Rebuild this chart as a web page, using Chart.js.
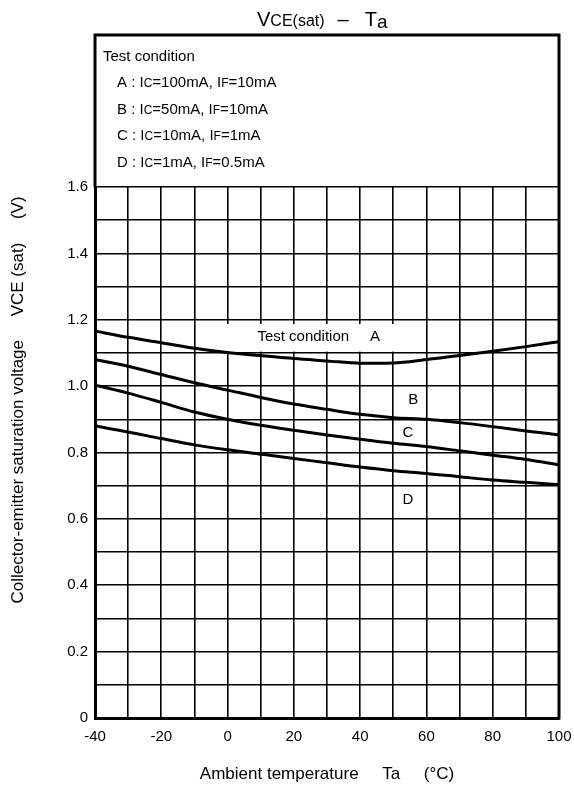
<!DOCTYPE html>
<html>
<head>
<meta charset="utf-8">
<title>VCE(sat) - Ta</title>
<script src="https://cdn.jsdelivr.net/npm/chart.js@4.4.1/dist/chart.umd.min.js"></script>
<style>
  html, body { margin: 0; padding: 0; background: #fff; }
  canvas { display: block; }
</style>
</head>
<body>
<canvas id="vceChart" width="574" height="789"></canvas>
<script>
// ===== DATA =====
const temps = [-40, -30, -20, -10, 0, 10, 20, 30, 40, 50, 60, 70, 80, 90, 100];

const curveA = [1.166, 1.147, 1.131, 1.114, 1.101, 1.092, 1.083, 1.076, 1.069, 1.070, 1.080, 1.092, 1.105, 1.119, 1.134];
const curveB = [1.080, 1.060, 1.035, 1.010, 0.988, 0.966, 0.946, 0.930, 0.915, 0.905, 0.900, 0.890, 0.878, 0.865, 0.853];
const curveC = [1.003, 0.979, 0.951, 0.922, 0.900, 0.882, 0.867, 0.853, 0.840, 0.828, 0.818, 0.805, 0.792, 0.779, 0.763];
const curveD = [0.880, 0.862, 0.842, 0.823, 0.808, 0.795, 0.782, 0.769, 0.756, 0.745, 0.737, 0.727, 0.717, 0.710, 0.703];

const curveNames = ["A", "B", "C", "D"];
const condIC = ["100mA", "50mA", "10mA", "1mA"];
const condIF = ["10mA", "10mA", "1mA", "0.5mA"];

const xMin = -40, xMax = 100, xStep = 10, xLabelStep = 20;
const yMin = 0, yMax = 1.6, yStep = 0.1, yLabelStep = 0.2;

// ===== HELPERS =====
const FAMILY = '"Liberation Sans", Arial, sans-serif';
const font = size => size + "px " + FAMILY;

function drawRuns(ctx, runs, x, y) {
  runs.forEach(r => {
    if (typeof r === "number") { x += r; return; }
    ctx.font = font(r[1]);
    ctx.fillText(r[0], x, y + (r[2] || 0));
    x += ctx.measureText(r[0]).width;
  });
  return x;
}

// ===== PLUGIN: box, titles, curve labels =====
const decorations = {
  id: "decorations",
  beforeDatasetsDraw(chart) {
    const { ctx, scales: { x, y } } = chart;
    // white patch behind "Test condition A"
    const l = x.getPixelForValue(-1.5), r = x.getPixelForValue(52);
    const t = y.getPixelForValue(1.187), b = y.getPixelForValue(1.104);
    ctx.save();
    ctx.fillStyle = "#fff";
    ctx.fillRect(l, t, r - l, b - t);
    ctx.restore();
  },
  afterDatasetsDraw(chart) {
    const { ctx, scales: { x, y } } = chart;
    ctx.save();
    ctx.fillStyle = "#000";
    ctx.font = font(15);
    ctx.textBaseline = "middle";
    ctx.textAlign = "left";
    ctx.fillText("Test condition", x.getPixelForValue(9), y.getPixelForValue(1.148));
    ctx.textAlign = "center";
    ctx.fillText(curveNames[0], x.getPixelForValue(44.5), y.getPixelForValue(1.148));
    ctx.fillText(curveNames[1], x.getPixelForValue(56), y.getPixelForValue(0.958));
    ctx.fillText(curveNames[2], x.getPixelForValue(54.4), y.getPixelForValue(0.859));
    ctx.fillText(curveNames[3], x.getPixelForValue(54.4), y.getPixelForValue(0.657));
    ctx.restore();
  },
  afterDraw(chart) {
    const { ctx, chartArea: ca } = chart;
    const boxTop = 35;
    ctx.save();

    // condition box above the grid + right frame
    ctx.strokeStyle = "#000";
    ctx.lineWidth = 3;
    ctx.beginPath();
    ctx.moveTo(ca.left, ca.top);
    ctx.lineTo(ca.left, boxTop);
    ctx.lineTo(ca.right, boxTop);
    ctx.lineTo(ca.right, ca.bottom + 1.5);
    ctx.stroke();

    ctx.fillStyle = "#000";
    ctx.textAlign = "left";
    ctx.textBaseline = "alphabetic";
    ctx.font = font(15);
    ctx.fillText("Test condition", 103, 61);
    for (let i = 0; i < curveNames.length; i++) {
      const yy = 87 + i * 26.7;
      drawRuns(ctx, [
        [curveNames[i] + " : I", 15], ["C", 12],
        ["=" + condIC[i] + ", I", 15], ["F", 12],
        ["=" + condIF[i], 15]
      ], 117, yy);
    }

    // chart title
    drawRuns(ctx, [["V", 20], ["CE(sat)", 16], 13, ["\u2013", 20], 16, ["T", 20], ["a", 19, 2]], 257, 26);

    // y axis title
    ctx.translate(18, 400);
    ctx.rotate(-Math.PI / 2);
    ctx.textAlign = "center";
    ctx.textBaseline = "middle";
    ctx.font = font(17);
    ctx.fillText("Collector-emitter saturation voltage     VCE (sat)     (V)", 0, 0);
    ctx.restore();
  }
};

// ===== CHART =====
const series = [curveA, curveB, curveC, curveD];

const ctx = document.getElementById("vceChart").getContext("2d");

const vceChart = new Chart(ctx, {
  type: "line",
  data: {
    datasets: series.map((vals, i) => ({
      label: curveNames[i],
      data: temps.map((t, k) => ({ x: t, y: vals[k] })),
      borderColor: "#000",
      borderWidth: 3,
      pointRadius: 0,
      fill: false,
      cubicInterpolationMode: "monotone"
    }))
  },
  options: {
    responsive: false,
    animation: false,
    devicePixelRatio: 1,
    layout: { padding: { top: 187, right: 15, left: 0, bottom: 0 } },
    plugins: {
      legend: { display: false },
      title: { display: false },
      tooltip: { enabled: false }
    },
    scales: {
      x: {
        type: "linear",
        min: xMin,
        max: xMax,
        afterFit(scale) {
          scale.height = 71;
          scale.paddingLeft = 0;
          scale.paddingRight = 0;
        },
        ticks: {
          stepSize: xStep,
          autoSkip: false,
          maxRotation: 0,
          padding: 10,
          color: "#000",
          font: { family: FAMILY, size: 15 },
          callback: v => (v % xLabelStep === 0 ? String(v) : "")
        },
        grid: { color: "#000", lineWidth: 1.6, drawTicks: false },
        border: { display: true, color: "#000", width: 3 },
        title: {
          display: true,
          text: "Ambient temperature     Ta     (\u00B0C)",
          color: "#000",
          font: { family: FAMILY, size: 17 },
          padding: { top: 0, bottom: 4 }
        }
      },
      y: {
        min: yMin,
        max: yMax,
        afterFit(scale) { scale.width = 95; },
        ticks: {
          stepSize: yStep,
          autoSkip: false,
          padding: 7,
          color: "#000",
          font: { family: FAMILY, size: 15 },
          callback: v => {
            const n = Math.round(v * 10);
            if (n % Math.round(yLabelStep * 10) !== 0) return "";
            return n === 0 ? "0" : (n / 10).toFixed(1);
          }
        },
        grid: { color: "#000", lineWidth: 1.6, drawTicks: false },
        border: { display: true, color: "#000", width: 3 }
      }
    }
  },
  plugins: [decorations]
});
</script>
</body>
</html>
